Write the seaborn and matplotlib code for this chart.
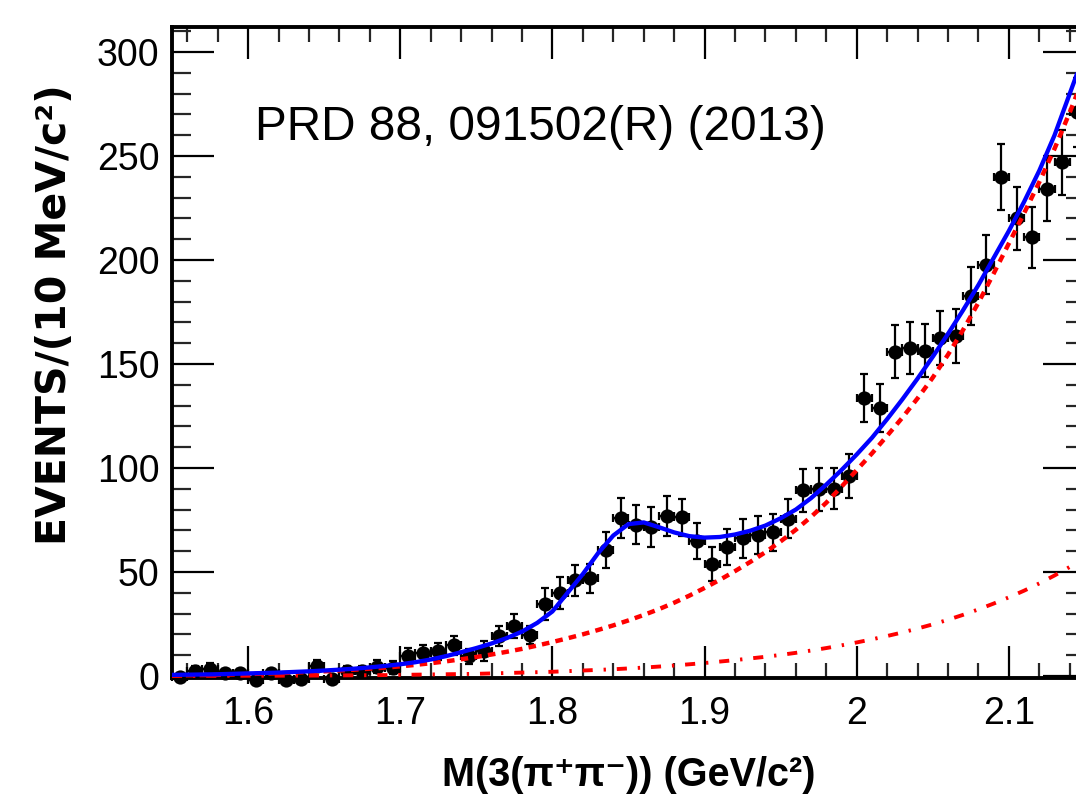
import numpy as np
import pandas as pd
import matplotlib
matplotlib.use("Agg")
import matplotlib.pyplot as plt
import seaborn as sns
from matplotlib.ticker import FixedLocator, MultipleLocator

# ---- measured spectrum: bin centres (GeV/c^2), events per 10 MeV/c^2, errors
mass = [1.555, 1.565, 1.575, 1.585, 1.595, 1.605, 1.615, 1.625, 1.635, 1.645,
        1.655, 1.665, 1.675, 1.685, 1.695, 1.705, 1.715, 1.725, 1.735, 1.745,
        1.755, 1.765, 1.775, 1.785, 1.795, 1.805, 1.815, 1.825, 1.835, 1.845,
        1.855, 1.865, 1.875, 1.885, 1.895, 1.905, 1.915, 1.925, 1.935, 1.945,
        1.955, 1.965, 1.975, 1.985, 1.995, 2.005, 2.015, 2.025, 2.035, 2.045,
        2.055, 2.065, 2.075, 2.085, 2.095, 2.105, 2.115, 2.125, 2.135, 2.145]
events = [-0.5, 2.5, 3.5, 1.5, 1.5, -2.0, 1.5, -2.0, -1.5, 5.0,
          -1.5, 2.5, 2.5, 4.5, 4.0, 9.5, 10.8, 11.8, 14.7, 9.4,
          12.0, 19.2, 24.0, 19.7, 34.6, 39.9, 45.9, 46.9, 60.6, 76.0,
          72.8, 71.6, 76.9, 76.2, 64.9, 53.8, 62.0, 66.1, 67.8, 69.0,
          75.5, 89.2, 89.7, 90.1, 96.2, 133.7, 128.8, 155.8, 157.7, 156.3,
          162.5, 163.5, 182.7, 197.8, 239.9, 220.0, 210.8, 233.9, 246.9, 271.0]
events_err = [2.0, 2.5, 2.5, 2.0, 2.0, 2.0, 2.0, 2.0, 2.0, 2.7,
              2.0, 2.5, 2.5, 3.0, 3.0, 4.0, 4.2, 4.2, 4.6, 3.5,
              5.0, 4.8, 5.6, 4.5, 7.5, 7.5, 7.6, 6.8, 8.6, 9.5,
              9.4, 9.4, 9.6, 9.1, 8.8, 8.0, 8.8, 9.2, 9.2, 8.8,
              9.4, 10.4, 10.2, 10.0, 10.6, 11.6, 11.7, 12.8, 12.7, 12.8,
              13.0, 13.1, 13.8, 14.3, 15.8, 15.0, 14.6, 15.2, 15.5, 16.5]
bin_half_width = 0.005

# ---- fit curves sampled every 10 MeV/c^2
fit_mass = [1.55, 1.56, 1.57, 1.58, 1.59, 1.60, 1.61, 1.62, 1.63, 1.64,
            1.65, 1.66, 1.67, 1.68, 1.69, 1.70, 1.71, 1.72, 1.73, 1.74,
            1.75, 1.76, 1.77, 1.78, 1.79, 1.80, 1.81, 1.82, 1.83, 1.84,
            1.85, 1.86, 1.87, 1.88, 1.89, 1.90, 1.91, 1.92, 1.93, 1.94,
            1.95, 1.96, 1.97, 1.98, 1.99, 2.00, 2.01, 2.02, 2.03, 2.04,
            2.05, 2.06, 2.07, 2.08, 2.09, 2.10, 2.11, 2.12, 2.13, 2.14, 2.15]
fit_total = [0.5, 0.6, 0.7, 0.8, 1.0, 1.2, 1.4, 1.6, 1.9, 2.2,
             2.6, 3.0, 3.5, 4.1, 4.8, 5.6, 6.6, 7.9, 9.5, 11.4,
             13.4, 15.6, 18.2, 21.3, 25.5, 31.0, 40.0, 49.0, 59.0, 67.5,
             73.0, 73.8, 71.5, 69.0, 67.2, 66.5, 66.8, 68.0, 69.8, 72.3,
             75.8, 80.0, 85.5, 92.0, 99.0, 106.5, 114.5, 123.5, 133.0, 143.0,
             153.5, 164.5, 176.0, 188.0, 201.0, 214.0, 228.0, 243.0, 260.0, 280.0, 300.0]
fit_bkg = [0.2, 0.3, 0.4, 0.5, 0.7, 0.9, 1.1, 1.3, 1.6, 1.9,
           2.2, 2.6, 3.0, 3.5, 4.0, 4.6, 5.3, 6.1, 7.0, 8.0,
           9.1, 10.3, 11.6, 13.0, 14.6, 16.3, 18.1, 20.0, 22.1, 24.3,
           26.7, 29.3, 32.1, 35.2, 38.6, 42.3, 46.2, 50.4, 54.8, 59.5,
           64.7, 70.3, 76.5, 83.3, 91.0, 99.0, 107.0, 115.5, 124.2, 133.5,
           143.5, 154.5, 166.5, 179.5, 193.5, 208.0, 222.5, 237.5, 253.5, 271.0, 289.5]
fit_bkg2 = [0.0, 0.0, 0.0, 0.05, 0.05, 0.1, 0.1, 0.1, 0.15, 0.15,
            0.2, 0.25, 0.3, 0.35, 0.4, 0.5, 0.6, 0.7, 0.8, 0.9,
            1.0, 1.2, 1.4, 1.6, 1.8, 2.0, 2.3, 2.6, 2.9, 3.2,
            3.6, 4.0, 4.5, 5.0, 5.6, 6.2, 6.9, 7.6, 8.4, 9.2,
            10.1, 11.1, 12.2, 13.4, 14.7, 16.1, 17.6, 19.2, 20.9, 22.8,
            24.8, 27.0, 29.4, 32.0, 34.8, 37.8, 41.0, 44.5, 48.3, 52.4, 56.8]

x_ticks = [1.6, 1.7, 1.8, 1.9, 2.0, 2.1]
x_tick_labels = ["1.6", "1.7", "1.8", "1.9", "2", "2.1"]
y_ticks = [0, 50, 100, 150, 200, 250, 300]
y_tick_labels = ["0", "50", "100", "150", "200", "250", "300"]

data = pd.DataFrame({"mass": mass, "events": events, "err": events_err})
curves = pd.DataFrame({"mass": fit_mass, "total": fit_total,
                       "bkg": fit_bkg, "bkg2": fit_bkg2})

sns.set_theme(style="ticks")
plt.rcParams["font.family"] = ["Liberation Sans", "DejaVu Sans"]

fig = plt.figure(figsize=(10.76, 8.0), dpi=100)
ax = fig.add_axes([172 / 1076, 122 / 800, 913 / 1076, 651 / 800])

# data points with error bars
ax.errorbar(data["mass"], data["events"], yerr=data["err"], xerr=bin_half_width,
            fmt="none", ecolor="black", elinewidth=1.6, capsize=3.2,
            capthick=1.6, clip_on=False, zorder=2)
sns.scatterplot(data=data, x="mass", y="events", color="black", s=105,
                edgecolor="black", linewidth=0, clip_on=False, zorder=3, ax=ax)

# fit components
sns.lineplot(data=curves, x="mass", y="bkg2", color="#ff0000", linewidth=2.8,
             linestyle=(0, (2.6, 2.8, 0.6, 2.8)), sort=False, zorder=4, ax=ax)
sns.lineplot(data=curves, x="mass", y="bkg", color="#ff0000", linewidth=3.2,
             linestyle=(0, (1.7, 1.4)), sort=False, zorder=4, ax=ax)
sns.lineplot(data=curves, x="mass", y="total", color="#0000ff", linewidth=3.1,
             sort=False, zorder=5, ax=ax)

ax.set_xlim(1.55, 2.15)
ax.set_ylim(-1, 312)

ax.xaxis.set_major_locator(FixedLocator(x_ticks))
ax.set_xticklabels(x_tick_labels)
ax.xaxis.set_minor_locator(MultipleLocator(0.02))
ax.yaxis.set_major_locator(FixedLocator(y_ticks))
ax.set_yticklabels(y_tick_labels)
ax.yaxis.set_minor_locator(MultipleLocator(10))

ax.tick_params(axis="x", which="major", direction="in", length=23, width=1.6,
               top=True, bottom=True, labelsize=27, pad=13, colors="black")
ax.tick_params(axis="x", which="minor", direction="in", length=11, width=1.6,
               top=True, bottom=True)
ax.tick_params(axis="y", which="major", direction="in", length=30, width=1.6,
               left=True, right=True, labelsize=27, pad=9, colors="black")
ax.tick_params(axis="y", which="minor", direction="in", length=13.5, width=1.6,
               left=True, right=True)
for side in ax.spines.values():
    side.set_linewidth(2.8)
    side.set_color("black")

ax.set_xlabel("M(3(π⁺π⁻)) (GeV/c²)", fontsize=28.5, fontweight="bold",
              va="center", color="black")
ax.xaxis.set_label_coords(0.5, -0.149)
ax.set_ylabel("EVENTS/(10 MeV/c²)", fontsize=29.5, fontweight="bold",
              family=["DejaVu Sans"], va="center", color="black")
ax.yaxis.set_label_coords(-0.128, 0.558)

ax.text(1.6046, 257.7, "PRD 88, 091502(R) (2013)", fontsize=34.4,
        family=["Liberation Sans", "DejaVu Sans"], va="baseline", color="black")

fig.savefig("out.png", dpi=100)
